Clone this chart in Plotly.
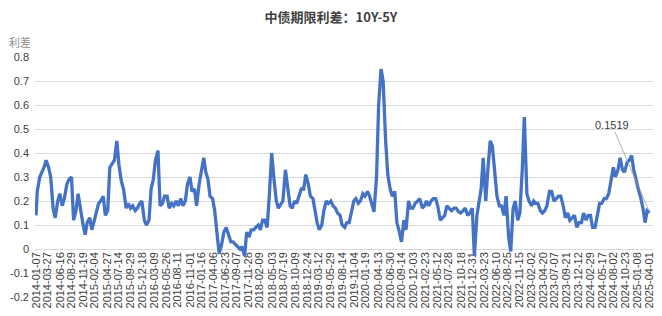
import plotly.graph_objects as go

# ---- data (semi-monthly samples) ----
v2014 = [0.14, 0.24, 0.30, 0.32, 0.34, 0.37, 0.34, 0.30, 0.17, 0.13, 0.20, 0.23,
         0.18, 0.21, 0.27, 0.29, 0.30, 0.12, 0.16, 0.23, 0.15, 0.11, 0.06, 0.11]
v2015 = [0.13, 0.08, 0.12, 0.15, 0.19, 0.20, 0.22, 0.14, 0.16, 0.34, 0.36, 0.37,
         0.45, 0.35, 0.28, 0.25, 0.17, 0.19, 0.17, 0.18, 0.16, 0.17, 0.19, 0.20]
v2016 = [0.12, 0.10, 0.12, 0.25, 0.29, 0.37, 0.41, 0.18, 0.19, 0.22, 0.22, 0.17,
         0.19, 0.18, 0.20, 0.18, 0.21, 0.18, 0.20, 0.27, 0.30, 0.24, 0.25, 0.18]
v2017 = [0.27, 0.32, 0.38, 0.32, 0.29, 0.22, 0.21, 0.16, 0.06, -0.02, 0.02, 0.07,
         0.09, 0.06, 0.03, 0.03, 0.02, 0.01, 0.00, 0.01, -0.03, 0.07, 0.05, 0.08]
v2018 = [0.08, 0.09, 0.10, 0.08, 0.12, 0.12, 0.09, 0.22, 0.40, 0.30, 0.20, 0.17,
         0.19, 0.20, 0.33, 0.26, 0.18, 0.17, 0.20, 0.19, 0.23, 0.25, 0.25, 0.31]
v2019 = [0.27, 0.22, 0.21, 0.16, 0.11, 0.08, 0.10, 0.16, 0.20, 0.19, 0.20, 0.18,
         0.17, 0.15, 0.14, 0.10, 0.09, 0.11, 0.11, 0.15, 0.20, 0.21, 0.19, 0.20]
v2020 = [0.23, 0.22, 0.24, 0.22, 0.18, 0.155, 0.30, 0.60, 0.75, 0.70, 0.45, 0.31,
         0.25, 0.22, 0.24, 0.11, 0.07, 0.03, 0.12, 0.08, 0.20, 0.17, 0.17, 0.19]
v2021 = [0.20, 0.21, 0.17, 0.18, 0.20, 0.18, 0.20, 0.21, 0.21, 0.18, 0.12, 0.13,
         0.14, 0.18, 0.17, 0.16, 0.17, 0.17, 0.155, 0.15, 0.16, 0.17, 0.14, 0.15]
v2022 = [0.17, -0.03, 0.14, 0.20, 0.25, 0.38, 0.20, 0.33, 0.45, 0.43, 0.30, 0.22,
         0.18, 0.18, 0.14, 0.22, 0.05, -0.01, 0.17, 0.20, 0.12, 0.15, 0.33, 0.55]
v2023 = [0.23, 0.20, 0.18, 0.20, 0.19, 0.19, 0.16, 0.15, 0.16, 0.18, 0.24, 0.24,
         0.20, 0.21, 0.22, 0.22, 0.18, 0.13, 0.15, 0.12, 0.13, 0.14, 0.09, 0.11]
v2024 = [0.11, 0.15, 0.12, 0.14, 0.14, 0.09, 0.09, 0.13, 0.19, 0.19, 0.21, 0.21,
         0.23, 0.28, 0.34, 0.30, 0.33, 0.38, 0.33, 0.32, 0.36, 0.37, 0.39, 0.33]
v2025 = [0.28, 0.25, 0.21, 0.17, 0.11, 0.16, 0.1519]

yearly = {2014: v2014, 2015: v2015, 2016: v2016, 2017: v2017, 2018: v2018,
          2019: v2019, 2020: v2020, 2021: v2021, 2022: v2022, 2023: v2023,
          2024: v2024}

tick_labels = [
    "2014-01-07", "2014-03-27", "2014-06-16", "2014-08-29", "2014-11-19",
    "2015-02-04", "2015-04-27", "2015-07-14", "2015-09-29", "2015-12-18",
    "2016-03-09", "2016-05-26", "2016-08-11", "2016-11-01", "2017-01-16",
    "2017-04-06", "2017-06-23", "2017-09-07", "2017-11-28", "2018-02-09",
    "2018-05-03", "2018-07-19", "2018-10-09", "2018-12-24", "2019-03-12",
    "2019-05-29", "2019-08-14", "2019-11-04", "2020-01-19", "2020-04-13",
    "2020-06-30", "2020-09-14", "2020-12-03", "2021-02-23", "2021-05-12",
    "2021-07-28", "2021-10-18", "2021-12-31", "2022-03-23", "2022-06-10",
    "2022-08-25", "2022-11-15", "2023-02-02", "2023-04-20", "2023-07-07",
    "2023-09-21", "2023-12-12", "2024-02-29", "2024-05-17", "2024-08-02",
    "2024-10-23", "2025-01-08", "2025-04-01",
]

y_ticks = [0.8, 0.7, 0.6, 0.5, 0.4, 0.3, 0.2, 0.1, 0, -0.1, -0.2]
y_ticktext = ["0.8", "0.7", "0.6", "0.5", "0.4", "0.3", "0.2", "0.1", "0", "-0.1", "-0.2"]

# ---- build series ----
dates, values = [], []
for yr, vals in yearly.items():
    ds = []
    for m in range(1, 13):
        ds += [f"{yr}-{m:02d}-01", f"{yr}-{m:02d}-15"]
    if yr == 2014:
        ds[0] = "2014-01-07"
    dates += ds
    values += vals
dates += ["2025-01-01", "2025-01-15", "2025-02-01", "2025-02-15",
          "2025-03-01", "2025-03-15", "2025-04-01"]
values += v2025

FONT = "Liberation Sans, Arial, Noto Sans CJK SC, sans-serif"

fig = go.Figure()
fig.add_trace(go.Scatter(x=dates, y=values, mode="lines",
                         line=dict(color="#4472C4", width=3.3),
                         hoverinfo="skip", showlegend=False))

fig.update_layout(
    width=662, height=316,
    margin=dict(l=35, r=7, t=57, b=19),
    paper_bgcolor="white", plot_bgcolor="white",
    font=dict(family=FONT, color="#404040"),
    title=dict(text="<b>中债期限利差：10Y-5Y</b>", x=0.5, xanchor="center",
               y=0.945, yanchor="middle",
               font=dict(size=13, color="#404040", family="Noto Sans CJK SC, Liberation Sans, sans-serif")),
    xaxis=dict(type="date", range=["2013-12-31", "2025-04-23"],
               tickvals=tick_labels, ticktext=tick_labels, tickangle=-90,
               tickfont=dict(size=11, color="#404040"),
               showgrid=False, zeroline=False, showline=False, ticks="",
               anchor="free", position=0.2, layer="below traces"),
    yaxis=dict(range=[-0.2, 0.8], tickvals=y_ticks, ticktext=y_ticktext,
               tickfont=dict(size=11, color="#404040"), ticklabelstandoff=5,
               showgrid=True, gridcolor="#d9d9d9", gridwidth=1,
               zeroline=False, showline=False, ticks=""),
    annotations=[
        dict(text="利差", xref="paper", yref="paper", x=-0.024, y=1.0625,
             xanchor="center", yanchor="middle", showarrow=False,
             font=dict(size=11, color="#8c8c8c", family="Noto Sans CJK SC, sans-serif")),
        dict(text="0.1519", x=dates[-1], y=values[-1], xref="x", yref="y",
             showarrow=True, arrowhead=0, arrowwidth=0.8, arrowcolor="#9a9a9a",
             ax=-38, ay=-88, font=dict(size=11, color="#404040")),
    ],
)

fig.write_html("out.html")
